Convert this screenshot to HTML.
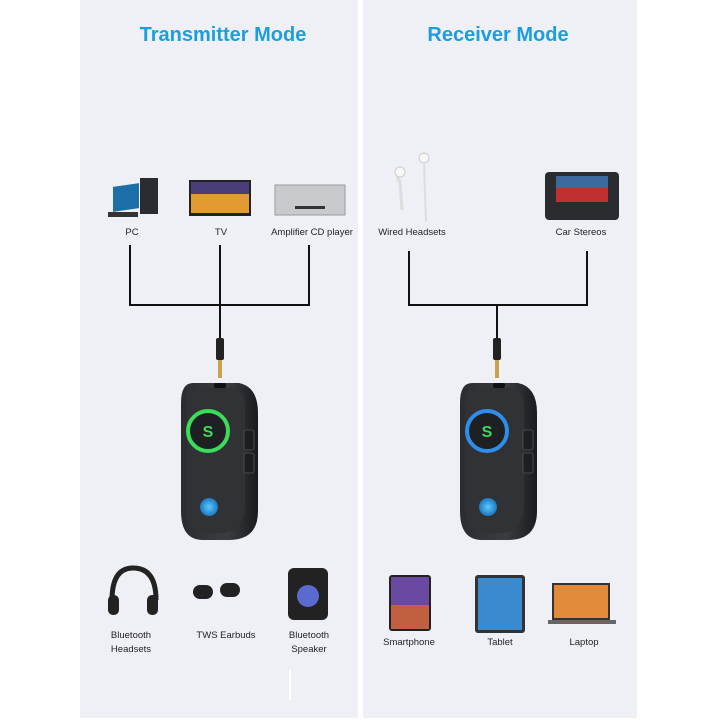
<!DOCTYPE html>
<html><head><meta charset="utf-8"><style>
html,body{margin:0;padding:0;background:#fff;}
svg{display:block;}
text{font-family:"Liberation Sans",sans-serif;}
</style></head><body>
<svg width="720" height="720" viewBox="0 0 720 720" xmlns="http://www.w3.org/2000/svg">
<defs>
<linearGradient id="dev" x1="0" y1="0" x2="1" y2="0"><stop offset="0" stop-color="#2a2c30"/><stop offset="0.6" stop-color="#3a3c40"/><stop offset="1" stop-color="#1a1b1e"/></linearGradient>
<radialGradient id="btn"><stop offset="0" stop-color="#5fc8ff"/><stop offset="1" stop-color="#1a7ac0"/></radialGradient>
<g id="device">
<path d="M12 0 H58 Q77 4 77 30 V128 Q77 157 48 157 H22 Q0 157 0 128 V20 Q0 0 12 0 Z" fill="url(#dev)"/>
<path d="M6 14 Q6 5 16 5 H52 Q64 7 64 25 V120 Q64 150 40 150 H22 Q6 150 6 125 Z" fill="#303236"/>
<rect x="63" y="47" width="10" height="20" rx="2" fill="#1e1f22" stroke="#555" stroke-width="0.8"/>
<rect x="63" y="70" width="10" height="20" rx="2" fill="#1e1f22" stroke="#555" stroke-width="0.8"/>
<circle cx="28" cy="124" r="9" fill="url(#btn)"/>
<rect x="33" y="0" width="12" height="5" rx="2" fill="#111"/>
</g>
</defs>
<rect width="720" height="720" fill="#fff"/>
<rect x="80" y="0" width="278" height="718" fill="#eff0f5"/>
<rect x="363" y="0" width="274" height="718" fill="#eff0f5"/>
<text x="223" y="41" font-size="20" font-weight="bold" fill="#1b9ee0" text-anchor="middle">Transmitter Mode</text>
<text x="498" y="41" font-size="20" font-weight="bold" fill="#1b9ee0" text-anchor="middle">Receiver Mode</text>

<!-- top icons left -->
<rect x="113" y="185" width="26" height="25" fill="#1d6fa8" transform="skewY(-8)" transform-origin="126 198"/>
<rect x="140" y="178" width="18" height="36" fill="#2a2c30"/>
<rect x="108" y="212" width="30" height="5" fill="#333"/>
<rect x="189" y="180" width="62" height="36" fill="#222"/>
<rect x="191" y="182" width="58" height="31" fill="#e39a30"/>
<rect x="191" y="182" width="58" height="12" fill="#4a3d7a"/>
<rect x="275" y="185" width="70" height="30" fill="#c8cacd" stroke="#999" stroke-width="1"/>
<rect x="295" y="206" width="30" height="3" fill="#333"/>
<text x="132" y="235" font-size="9.5" fill="#222" text-anchor="middle">PC</text>
<text x="221" y="235" font-size="9.5" fill="#222" text-anchor="middle">TV</text>
<text x="312" y="235" font-size="9.5" fill="#222" text-anchor="middle">Amplifier CD player</text>

<!-- top icons right -->
<path d="M400 170 Q395 175 400 182 L402 210" stroke="#ddd" stroke-width="3" fill="none"/>
<circle cx="400" cy="172" r="5" fill="#f7f7f7" stroke="#ccc"/>
<circle cx="424" cy="158" r="5" fill="#f7f7f7" stroke="#ccc"/>
<line x1="424" y1="163" x2="426" y2="222" stroke="#ddd" stroke-width="2"/>
<rect x="545" y="172" width="74" height="48" rx="4" fill="#2a2c30"/>
<rect x="556" y="176" width="52" height="26" fill="#c03030"/>
<rect x="556" y="176" width="52" height="12" fill="#3a6aa0"/>
<text x="412" y="235" font-size="9.5" fill="#222" text-anchor="middle">Wired Headsets</text>
<text x="581" y="235" font-size="9.5" fill="#222" text-anchor="middle">Car Stereos</text>

<!-- connector lines -->
<g stroke="#111" stroke-width="2" fill="none">
<polyline points="130,245 130,305 309,305 309,245"/>
<line x1="220" y1="245" x2="220" y2="340"/>
<polyline points="409,251 409,305 587,305 587,251"/>
<line x1="497" y1="305" x2="497" y2="340"/>
</g>
<g>
<rect x="216" y="338" width="8" height="22" rx="2" fill="#222"/>
<rect x="218" y="360" width="4" height="18" fill="#c8a050"/>
<rect x="493" y="338" width="8" height="22" rx="2" fill="#222"/>
<rect x="495" y="360" width="4" height="18" fill="#c8a050"/>
</g>

<!-- devices -->
<use href="#device" x="181" y="383"/>
<circle cx="208" cy="431" r="20" fill="#1e2023" stroke="#3ddb5a" stroke-width="4"/>
<text x="208" y="437" font-size="16" font-weight="bold" fill="#3ddb5a" text-anchor="middle">S</text>
<use href="#device" x="460" y="383"/>
<circle cx="487" cy="431" r="20" fill="#1e2023" stroke="#2f8fe8" stroke-width="4"/>
<text x="487" y="437" font-size="16" font-weight="bold" fill="#3ddb5a" text-anchor="middle">S</text>

<!-- bottom icons left -->
<path d="M112 600 Q112 568 133 568 Q156 568 156 600" stroke="#222" stroke-width="5" fill="none"/>
<rect x="108" y="595" width="11" height="20" rx="5" fill="#222"/>
<rect x="147" y="595" width="11" height="20" rx="5" fill="#222"/>
<rect x="193" y="585" width="20" height="14" rx="7" fill="#222"/>
<rect x="220" y="583" width="20" height="14" rx="7" fill="#222"/>
<rect x="288" y="568" width="40" height="52" rx="6" fill="#222"/>
<circle cx="308" cy="596" r="11" fill="#5a6ad0"/>
<text x="131" y="638" font-size="9.5" fill="#222" text-anchor="middle">Bluetooth</text>
<text x="131" y="652" font-size="9.5" fill="#222" text-anchor="middle">Headsets</text>
<text x="226" y="638" font-size="9.5" fill="#222" text-anchor="middle">TWS Earbuds</text>
<text x="309" y="638" font-size="9.5" fill="#222" text-anchor="middle">Bluetooth</text>
<text x="309" y="652" font-size="9.5" fill="#222" text-anchor="middle">Speaker</text>
<line x1="290" y1="670" x2="290" y2="700" stroke="#fff" stroke-width="2"/>

<!-- bottom icons right -->
<rect x="389" y="575" width="42" height="56" rx="3" fill="#222"/>
<rect x="391" y="577" width="38" height="52" fill="#6a4aa0"/>
<rect x="391" y="605" width="38" height="24" fill="#c06040"/>
<rect x="475" y="575" width="50" height="58" rx="3" fill="#333"/>
<rect x="478" y="578" width="44" height="52" fill="#3a8ad0"/>
<rect x="552" y="583" width="58" height="37" fill="#333"/>
<rect x="554" y="585" width="54" height="33" fill="#e08a3a"/>
<rect x="548" y="620" width="68" height="4" fill="#666"/>
<text x="409" y="645" font-size="9.5" fill="#222" text-anchor="middle">Smartphone</text>
<text x="500" y="645" font-size="9.5" fill="#222" text-anchor="middle">Tablet</text>
<text x="584" y="645" font-size="9.5" fill="#222" text-anchor="middle">Laptop</text>
</svg>
</body></html>
